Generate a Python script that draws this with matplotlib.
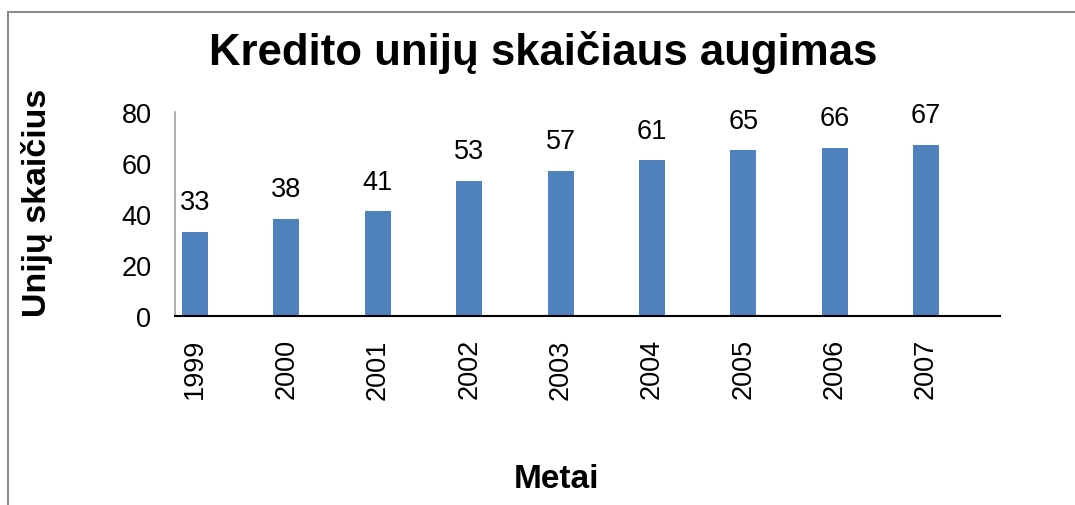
import matplotlib
matplotlib.use('Agg')
import matplotlib.pyplot as plt
from matplotlib.lines import Line2D

plt.rcParams['font.family'] = ['Liberation Sans', 'DejaVu Sans']

metai = ['1999', '2000', '2001', '2002', '2003', '2004', '2005', '2006', '2007']
unijos = [33, 38, 41, 53, 57, 61, 65, 66, 67]

fig = plt.figure(figsize=(10.75, 5.06), dpi=100)
ax = fig.add_axes([175/1075, 1-317/506, 825/1075, 204/506])

x = range(len(metai))
bars = ax.bar(x, unijos, width=0.285, color='#4F81BD')
for xi, v in zip(x, unijos):
    ax.annotate(str(v), (xi, v), xytext=(0, 12), textcoords='offset points',
                ha='center', va='bottom', fontsize=19.5)

ax.set_xlim(-0.22, 8.81)
ax.set_ylim(0, 80)
ax.set_yticks([0, 20, 40, 60, 80])
ax.set_xticks(list(x))
ax.set_xticklabels(metai, rotation=90, fontsize=19.5)
ax.tick_params(axis='y', length=0, pad=17, labelsize=19.5)
ax.tick_params(axis='x', length=0, pad=16)
for s in ['top', 'right']:
    ax.spines[s].set_visible(False)
ax.spines['left'].set_color('#A0A0A0')
ax.spines['left'].set_linewidth(1.2)
ax.spines['bottom'].set_color('black')
ax.spines['bottom'].set_linewidth(1.5)

fig.text(543/1075, 1-52/506, 'Kredito unijų skaičiaus augimas', ha='center', va='center',
         fontsize=31.5, fontweight='bold')
fig.text(37/1075, 1-203/506, 'Unijų skaičius', ha='center', va='center', rotation=90,
         fontsize=24.5, fontweight='bold')
fig.text(557/1075, 1-480/506, 'Metai', ha='center', va='center',
         fontsize=24, fontweight='bold')

# chart frame
fig.add_artist(Line2D([8/1075, 8/1075], [0, 1-13/506], transform=fig.transFigure,
                      color='#8C8C8C', lw=1.5))
fig.add_artist(Line2D([8/1075, 1], [1-13/506, 1-13/506], transform=fig.transFigure,
                      color='#8C8C8C', lw=1.5))

fig.savefig('out.png', dpi=100)
